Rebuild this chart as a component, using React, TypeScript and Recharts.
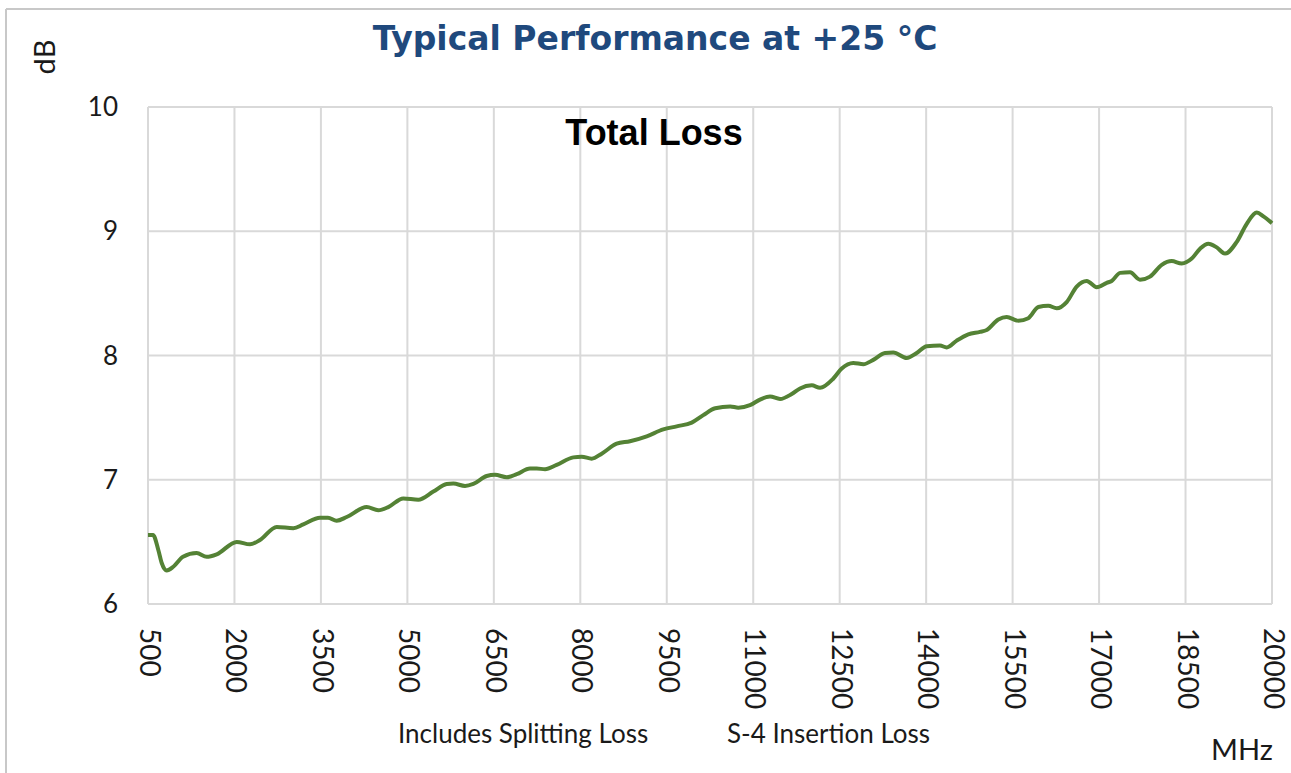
import React from 'react';
import { LineChart, Line, XAxis, YAxis, CartesianGrid } from 'recharts';

const freqMHz = [
  500, 587, 679, 738, 824, 939, 1107, 1345, 1518, 1692, 2039, 2270, 2443, 2733, 3021, 3194,
  3484, 3622, 3773, 3947, 4294, 4495, 4669, 4929, 5189, 5450, 5682, 5797, 6000, 6144, 6376,
  6520, 6723, 6897, 7127, 7244, 7388, 7590, 7879, 8024, 8198, 8371, 8631, 8862, 9152, 9440,
  9672, 9933, 10134, 10341, 10601, 10741, 10944, 11118, 11291, 11465, 11668, 11812, 12015,
  12159, 12391, 12535, 12736, 12910, 13083, 13286, 13430, 13662, 13836, 14010, 14240, 14357,
  14530, 14731, 14934, 15051, 15252, 15397, 15599, 15772, 15946, 16119, 16265, 16438, 16612,
  16786, 16959, 17133, 17219, 17364, 17537, 17710, 17884, 18087, 18260, 18434, 18607, 18752,
  18896, 19042, 19186, 19389, 19562, 19736, 19851, 20000,
];

const totalLossDb = [
  6.555, 6.555, 6.435, 6.33, 6.27, 6.3, 6.38, 6.41, 6.38, 6.4, 6.5, 6.48, 6.515, 6.62, 6.61, 6.64,
  6.695, 6.695, 6.67, 6.7, 6.78, 6.755, 6.78, 6.85, 6.84, 6.905, 6.966, 6.97, 6.95, 6.966, 7.03,
  7.04, 7.02, 7.045, 7.09, 7.09, 7.085, 7.12, 7.18, 7.185, 7.17, 7.21, 7.29, 7.31, 7.35, 7.405,
  7.43, 7.46, 7.52, 7.575, 7.59, 7.58, 7.6, 7.645, 7.67, 7.65, 7.69, 7.735, 7.76,
  7.74, 7.815, 7.895, 7.94, 7.93, 7.965, 8.02, 8.025, 7.98, 8.02, 8.075, 8.08, 8.065,
  8.12, 8.17, 8.19, 8.205, 8.29, 8.31, 8.28, 8.3, 8.39, 8.4, 8.38, 8.43, 8.555,
  8.6, 8.55, 8.585, 8.6, 8.665, 8.67, 8.61, 8.635, 8.73, 8.76, 8.74, 8.78, 8.86,
  8.9, 8.87, 8.82, 8.915, 9.06, 9.15, 9.12, 9.065,
];

const xTicks = [500, 2000, 3500, 5000, 6500, 8000, 9500, 11000, 12500, 14000, 15500, 17000, 18500, 20000];
const yTicks = [6, 7, 8, 9, 10];

const data = freqMHz.map((f, i) => ({ f, loss: totalLossDb[i] }));

const GRID = '#d9d9d9';
const LINE_GREEN = '#548235';
const LABEL_FONT = 'Lato, "Noto Sans", sans-serif';
const TEXT = '#1a1a1a';

const XTick = ({ x, y, payload }: any) => {
  const cx = x + 3;
  return (
    <text
      x={cx}
      y={y}
      transform={`rotate(90 ${cx} ${y})`}
      textAnchor="start"
      dominantBaseline="central"
      fontSize={28}
      fontFamily={LABEL_FONT}
      fill={TEXT}
    >
      {payload.value}
    </text>
  );
};

export default function App() {
  return (
    <div style={{ position: 'absolute', left: 0, top: 0, width: 1291, height: 773, background: '#fff' }}>
      <LineChart
        width={1291}
        height={773}
        data={data}
        margin={{ top: 107, right: 19, bottom: 0, left: 0 }}
      >
        <CartesianGrid stroke={GRID} strokeWidth={2} />
        <XAxis
          dataKey="f"
          type="number"
          domain={[500, 20000]}
          ticks={xTicks}
          interval={0}
          tickSize={0}
          tickMargin={24}
          axisLine={false}
          tick={<XTick />}
          height={169}
        />
        <YAxis
          type="number"
          domain={[6, 10]}
          ticks={yTicks}
          interval={0}
          width={148}
          tickSize={0}
          tickMargin={30}
          axisLine={false}
          tick={{ fontSize: 26, fontFamily: LABEL_FONT, fill: TEXT }}
        />
        <Line
          dataKey="loss"
          type="monotone"
          stroke={LINE_GREEN}
          strokeWidth={4}
          dot={false}
          isAnimationActive={false}
        />
      </LineChart>
      <svg
        width={1291}
        height={773}
        style={{ position: 'absolute', left: 0, top: 0, pointerEvents: 'none' }}
      >
        <line x1={6} y1={9} x2={1291} y2={9} stroke="#c8c8c8" strokeWidth={2} />
        <line x1={6} y1={9} x2={6} y2={773} stroke="#c8c8c8" strokeWidth={2} />
        <text
          x={655}
          y={50}
          textAnchor="middle"
          fontSize={33}
          fontWeight="bold"
          fontFamily='"DejaVu Sans", sans-serif'
          fill="#1f497d"
        >
          Typical Performance at +25 °C
        </text>
        <text
          x={654}
          y={145}
          textAnchor="middle"
          fontSize={36}
          fontWeight="bold"
          fontFamily='"Liberation Sans", Arial, sans-serif'
          fill="#000"
        >
          Total Loss
        </text>
        <text
          x={55}
          y={57}
          transform="rotate(-90 55 57)"
          textAnchor="middle"
          fontSize={29}
          fontFamily={LABEL_FONT}
          fill={TEXT}
        >
          dB
        </text>
        <text x={398} y={743} fontSize={26} fontFamily={LABEL_FONT} fill={TEXT}>
          Includes Splitting Loss
        </text>
        <text x={727} y={743} fontSize={26} fontFamily={LABEL_FONT} fill={TEXT}>
          S-4 Insertion Loss
        </text>
        <text x={1211} y={760} fontSize={29} fontFamily={LABEL_FONT} fill={TEXT}>
          MHz
        </text>
      </svg>
    </div>
  );
}
